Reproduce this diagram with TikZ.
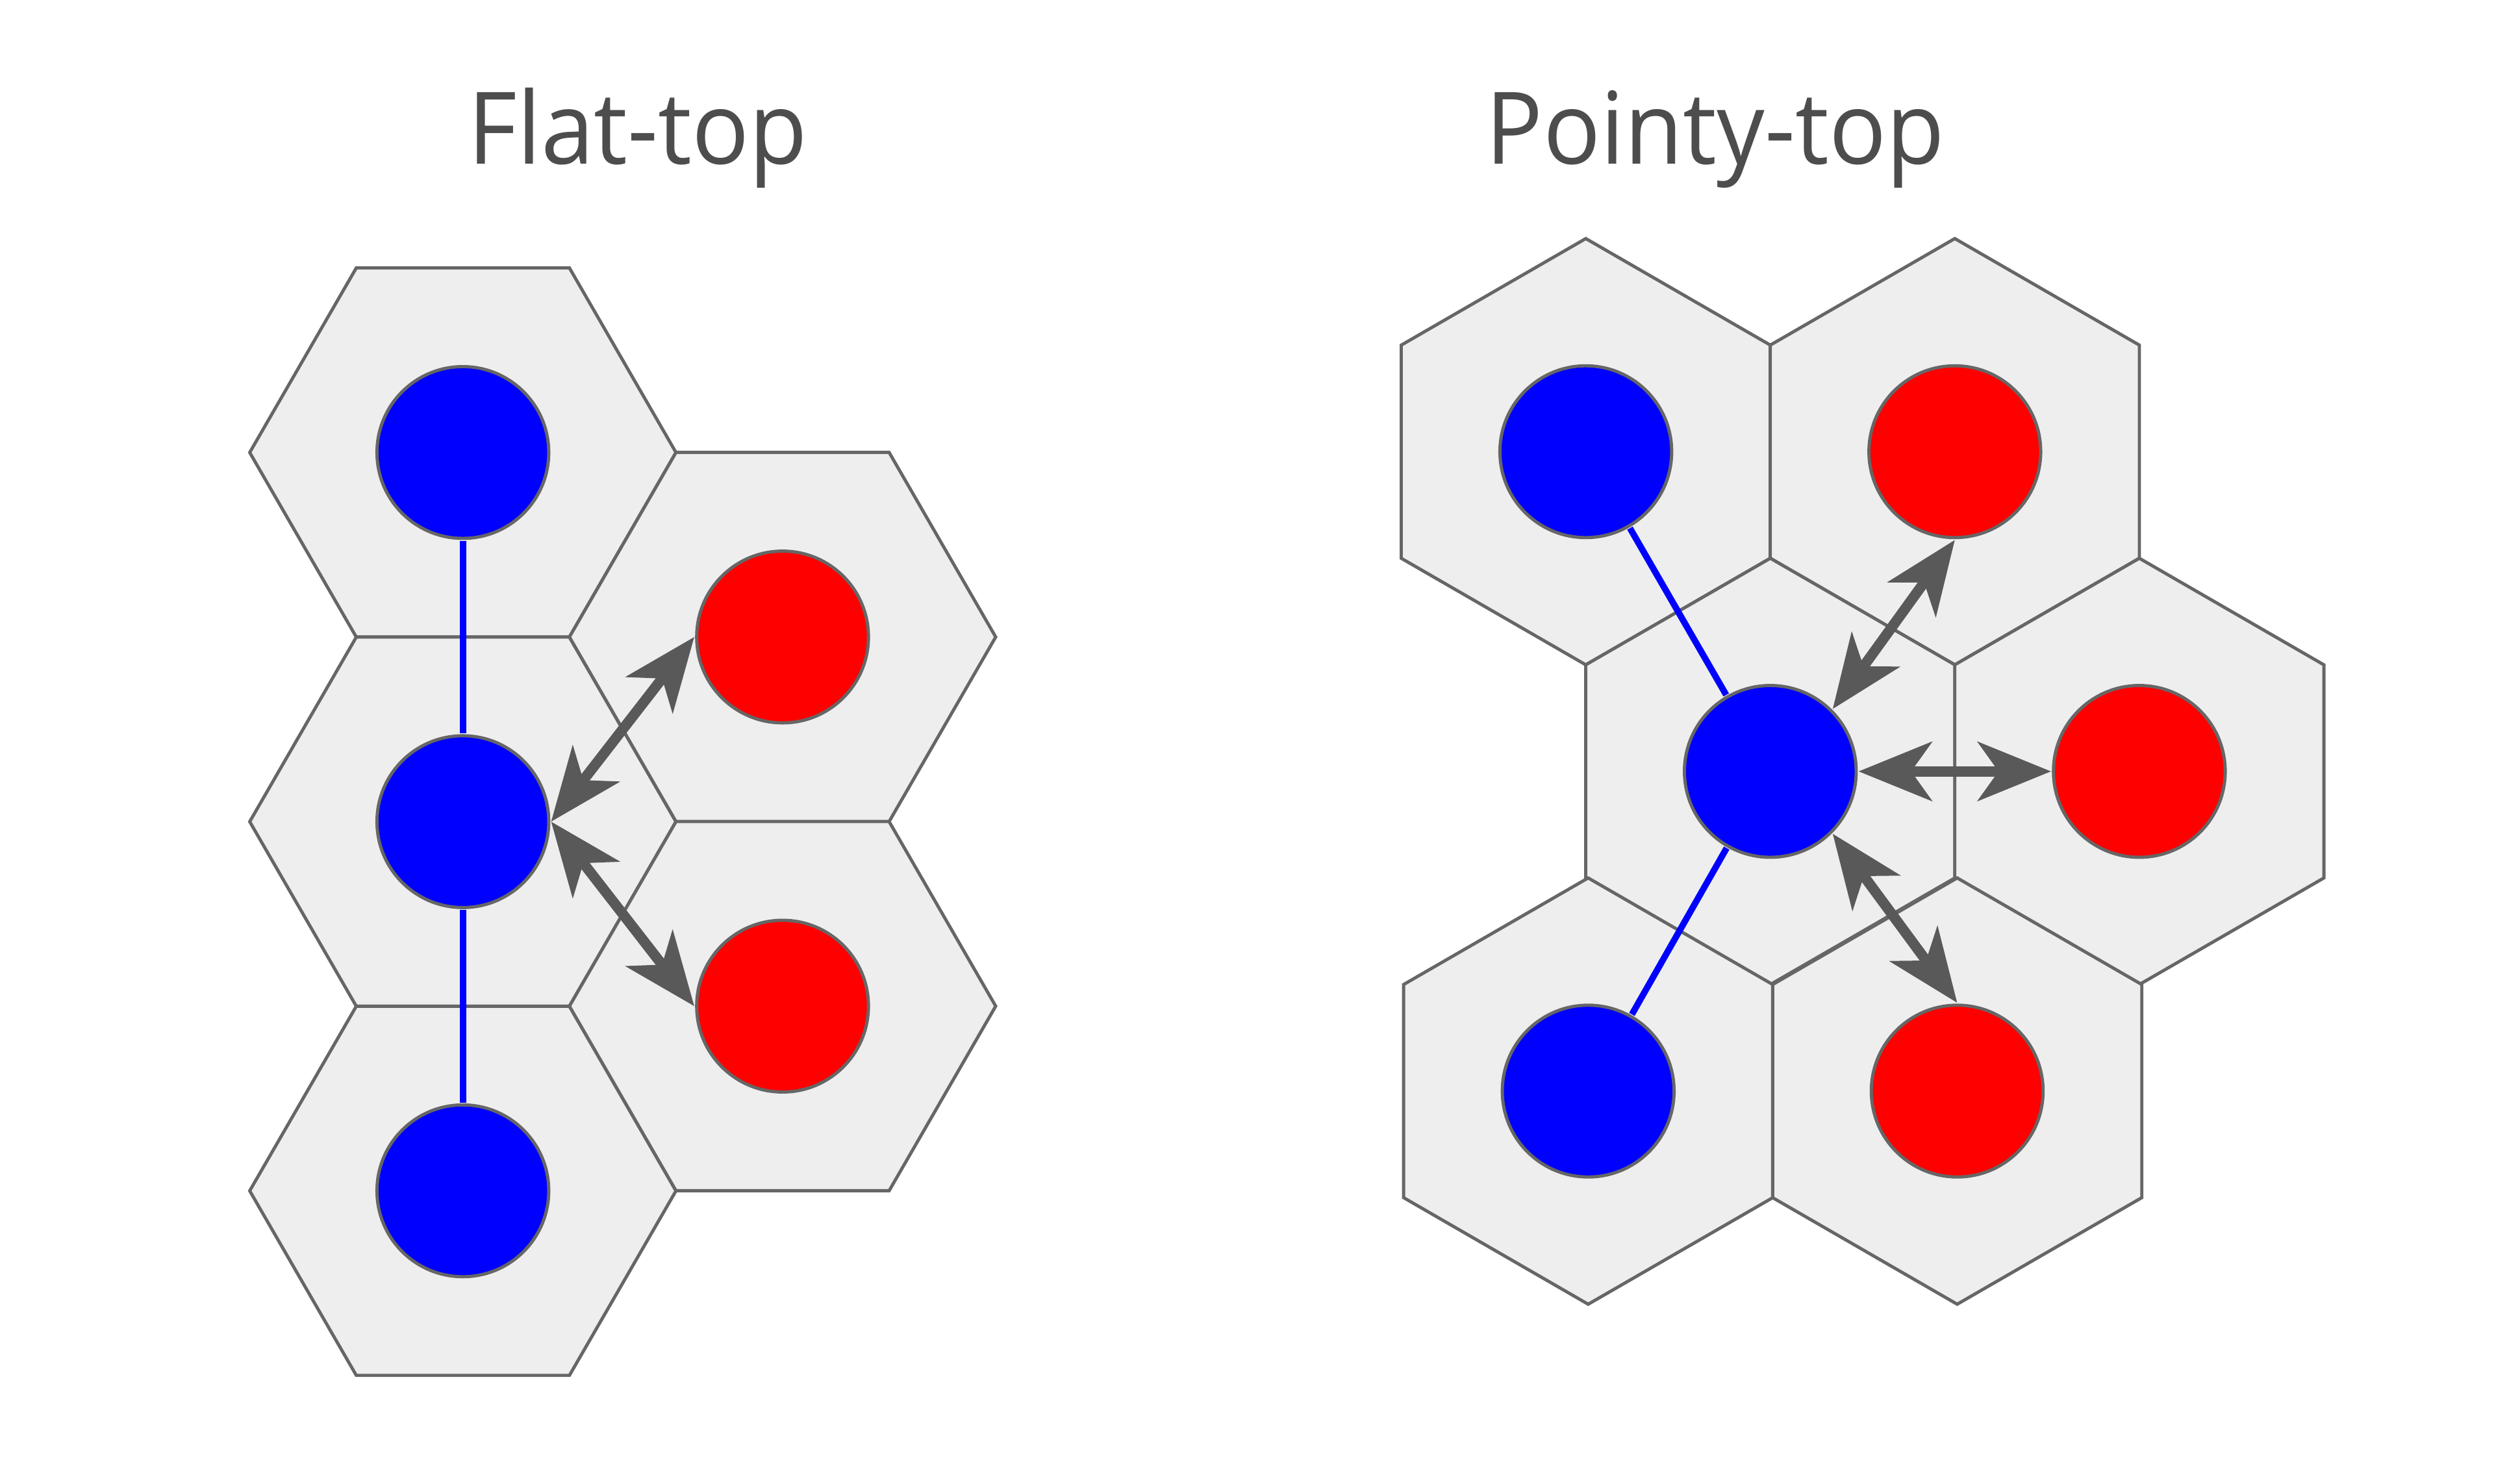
\documentclass[tikz,border=0pt]{standalone}
\usepackage{fontspec}
\setmainfont[FakeStretch=0.95]{Open Sans}
\usetikzlibrary{shapes.geometric,arrows.meta}
\definecolor{hexfill}{HTML}{EEEEEE}
\definecolor{hexline}{HTML}{666666}
\definecolor{arrowgray}{HTML}{595959}
\definecolor{titlegray}{HTML}{4D4D4D}
\begin{document}
\begin{tikzpicture}[x=1pt,y=-1pt,
  hexflat/.style={regular polygon, regular polygon sides=6, minimum size=268pt, inner sep=0pt, outer sep=0pt, draw=hexline, fill=hexfill, line width=2pt},
  hexpointy/.style={hexflat, shape border rotate=30},
  dot/.style={circle, minimum size=108pt, inner sep=0pt, draw=hexline, line width=2pt, outer sep=1.5pt},
  bluedot/.style={dot, fill=blue},
  reddot/.style={dot, fill=red},
  link/.style={blue, line width=4pt},
  nbr/.style={arrowgray, line width=6.5pt, {Stealth[length=46pt,width=37pt,inset=13pt]}-{Stealth[length=46pt,width=37pt,inset=13pt]}},
  title/.style={font=\fontsize{63}{70}\selectfont, text=titlegray, anchor=base}]
\useasboundingbox (0,0) rectangle (1568,933);
% titles
\node[title] (tflat) at (401,103) {Flat-top};
\node[title] (tpointy) at (1078.5,103) {Pointy-top};
% flat-top hexes
\node[hexflat] (hf1) at (291,284.5) {};
\node[hexflat] (hf2) at (291,516.6) {};
\node[hexflat] (hf3) at (291,748.7) {};
\node[hexflat] (hf4) at (492,400.5) {};
\node[hexflat] (hf5) at (492,632.6) {};
% pointy-top hexes
\node[hexpointy] (hp1) at (997,284) {};
\node[hexpointy] (hp2) at (1229,284) {};
\node[hexpointy] (hp3) at (1113,485) {};
\node[hexpointy] (hp4) at (1345,485) {};
\node[hexpointy] (hp5) at (998.5,686) {};
\node[hexpointy] (hp6) at (1230.5,686) {};
% flat-top dots
\node[bluedot] (fa) at (hf1) {};
\node[bluedot] (fb) at (hf2) {};
\node[bluedot] (fc) at (hf3) {};
\node[reddot] (fr1) at (hf4) {};
\node[reddot] (fr2) at (hf5) {};
% pointy-top dots
\node[bluedot] (pa) at (hp1) {};
\node[reddot] (pr1) at (hp2) {};
\node[bluedot] (pc) at (hp3) {};
\node[reddot] (pr2) at (hp4) {};
\node[bluedot] (pb) at (hp5) {};
\node[reddot] (pr3) at (hp6) {};
% links
\draw[link] (fa) -- (fb);
\draw[link] (fb) -- (fc);
\draw[link] (pa) -- (pc);
\draw[link] (pc) -- (pb);
% neighbour arrows
\draw[nbr] (fb.east) -- (fr1.west);
\draw[nbr] (fb.east) -- (fr2.west);
\draw[nbr] (pc.north east) -- (pr1.south);
\draw[nbr] (pc.east) -- (pr2.west);
\draw[nbr] (pc.south east) -- (pr3.north);
\end{tikzpicture}
\end{document}
